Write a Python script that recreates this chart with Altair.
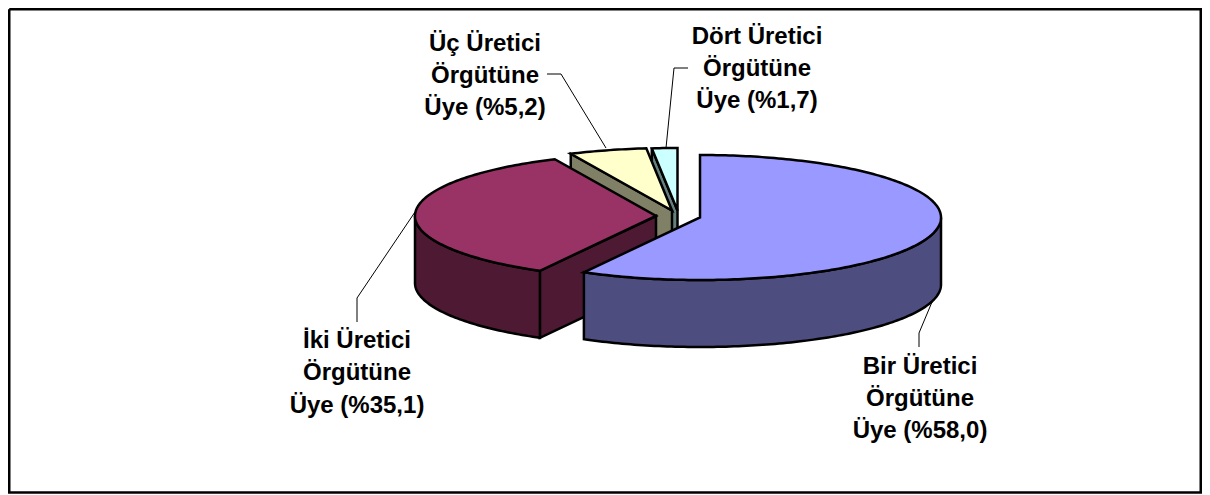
import math
import altair as alt

# ---- values ----
categories = ["Bir", "İki", "Üç", "Dört"]
shares = [58.0, 35.1, 5.2, 1.7]
top_colours = ["#9999FF", "#993366", "#FFFFCC", "#CCFFFF"]
side_colours = ["#4D4D80", "#4D1933", "#808066", "#668080"]
label_rows = [
    ["Bir Üretici", "Örgütüne", "Üye (%58,0)"],
    ["İki Üretici", "Örgütüne", "Üye (%35,1)"],
    ["Üç Üretici", "Örgütüne", "Üye (%5,2)"],
    ["Dört Üretici", "Örgütüne", "Üye (%1,7)"],
]

# ---- layout (chart pixels = page pixels - 8) ----
CX, CY = 692.0, 209.5
RX, RY = 241.0, 62.5
DEPTH = 67.0
EXPLODE = [(0, 0), (-44, -1.5), (-28, -7), (-22.5, -7)]
LABEL_X = [912, 349, 477, 749]
LABEL_Y = [[359, 391, 423], [333, 365, 398], [36, 68, 100], [29, 61, 93]]
LEADERS = [
    [[911, 339], [911, 325], [924, 294]],
    [[407, 204], [349, 290], [349, 314]],
    [[539, 66], [553, 66], [598, 140]],
    [[680, 60], [666, 60], [658, 140]],
]
FRAME = [[1.25, 1.25], [1192.75, 1.25], [1192.75, 484.5], [1.25, 484.5], [1.25, 1.25]]


def pt(i, deg, drop=0.0):
    dx, dy = EXPLODE[i]
    a = math.radians(deg)
    return [CX + dx + RX * math.sin(a), CY + dy - RY * math.cos(a) + drop]


def centre(i, drop=0.0):
    dx, dy = EXPLODE[i]
    return [CX + dx, CY + dy + drop]


def arc(i, a0, a1, drop=0.0):
    n = max(2, int(abs(a1 - a0)) + 1)
    return [pt(i, a0 + (a1 - a0) * k / n, drop) for k in range(n + 1)]


def poly(points, colour):
    ring = points + [points[0]]
    return {
        "type": "Feature",
        "properties": {"fill": colour},
        "geometry": {"type": "Polygon", "coordinates": [ring]},
    }


def line(points):
    return {
        "type": "Feature",
        "properties": {},
        "geometry": {"type": "LineString", "coordinates": points},
    }


# slice start / end angles, clockwise from twelve o'clock
edges = []
running = 0.0
for s in shares:
    edges.append((running, running + s * 3.6))
    running += s * 3.6
edges[-1] = (edges[-1][0], 360.0)

features = []
# the small slices at the back first, then the red one, then the blue one
for i in [3, 2, 1, 0]:
    a0, a1 = edges[i]
    if i in (1, 2, 3):
        # the cut face that turns towards the viewer
        features.append(
            poly(
                [centre(i), pt(i, a0), pt(i, a0, DEPTH), centre(i, DEPTH)],
                side_colours[i],
            )
        )
    # the visible part of the outer wall
    lo, hi = max(a0, 90.0), min(a1, 270.0)
    if lo < hi:
        features.append(
            poly(arc(i, lo, hi) + arc(i, hi, lo, DEPTH), side_colours[i])
        )
    features.append(poly([centre(i)] + arc(i, a0, a1), top_colours[i]))

projection = alt.Projection(type="identity", scale=1, translate=[0, 0])

slices = (
    alt.Chart(
        alt.InlineData(
            values={"type": "FeatureCollection", "features": features},
            format=alt.DataFormat(property="features"),
        )
    )
    .mark_geoshape(stroke="black", strokeWidth=2.5, strokeJoin="miter")
    .encode(color=alt.Color("properties.fill:N", scale=None, legend=None))
    .project(**projection.to_dict())
)

leaders = (
    alt.Chart(
        alt.InlineData(
            values={"type": "FeatureCollection", "features": [line(p) for p in LEADERS]},
            format=alt.DataFormat(property="features"),
        )
    )
    .mark_geoshape(filled=False, stroke="black", strokeWidth=1)
    .project(**projection.to_dict())
)

frame = (
    alt.Chart(
        alt.InlineData(
            values={"type": "FeatureCollection", "features": [line(FRAME)]},
            format=alt.DataFormat(property="features"),
        )
    )
    .mark_geoshape(filled=False, stroke="black", strokeWidth=2.5)
    .project(**projection.to_dict())
)

text_rows = []
for i, rows in enumerate(label_rows):
    for j, row in enumerate(rows):
        text_rows.append({"t": row, "px": LABEL_X[i], "py": LABEL_Y[i][j]})

labels = (
    alt.Chart(alt.Data(values=text_rows))
    .mark_text(
        font="Liberation Sans",
        fontWeight="bold",
        fontSize=24,
        color="black",
        align="center",
        baseline="middle",
    )
    .encode(
        x=alt.X("px:Q", scale=None),
        y=alt.Y("py:Q", scale=None),
        text="t:N",
    )
)

chart = (
    alt.layer(frame, leaders, slices, labels)
    .properties(
        width=1194,
        height=486,
        padding=0,
        autosize=alt.AutoSizeParams(type="none"),
        background="white",
    )
    .configure_view(stroke=None)
)

chart.save("out.html", embed_options={"renderer": "svg", "actions": False})
